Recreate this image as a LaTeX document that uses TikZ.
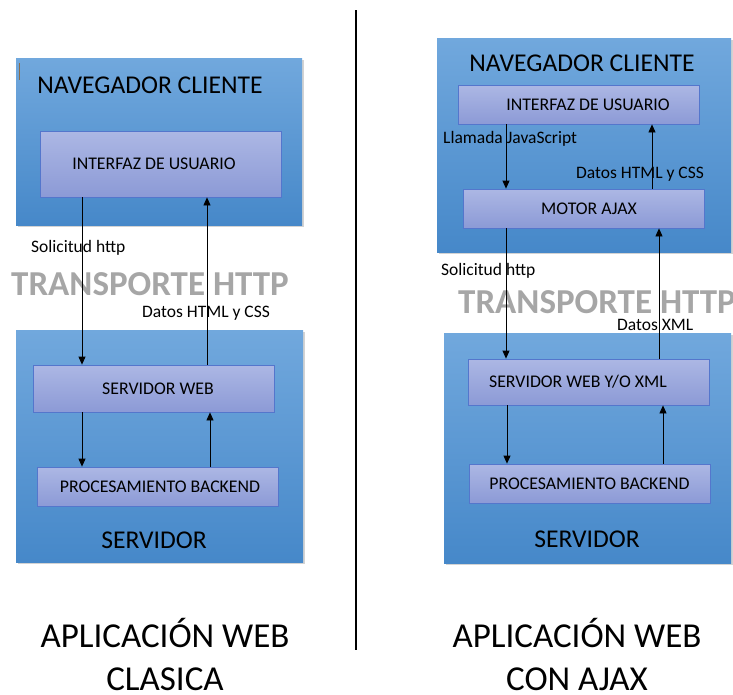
\documentclass[tikz,border=0pt]{standalone}
\usepackage{fontspec}
\setmainfont{Carlito}
\usetikzlibrary{shadows,arrows.meta}
\definecolor{outtop}{RGB}{113,168,221}
\definecolor{outbot}{RGB}{70,136,201}
\definecolor{intop}{RGB}{172,183,228}
\definecolor{inbot}{RGB}{140,154,214}
\definecolor{inborder}{RGB}{84,118,204}
\definecolor{transgray}{RGB}{166,166,166}
\definecolor{tickbrown}{RGB}{140,110,75}
\newcommand\fsz[1]{\fontsize{#1}{#1}\selectfont}
\begin{document}
\begin{tikzpicture}[x=1pt,y=-1pt,
  outerbox/.style={draw=none, top color=outtop, bottom color=outbot, inner sep=0pt,
    drop shadow={shadow xshift=1.5pt, shadow yshift=-2pt, opacity=0.35}},
  innerbox/.style={draw=inborder, line width=0.8pt, top color=intop, bottom color=inbot,
    inner sep=0pt, minimum width=241pt, font=\fsz{17.8}},
  title/.style={font=\fsz{25.6}, inner sep=0pt},
  lbl/.style={font=\fsz{17.5}, inner sep=0pt, anchor=west},
  transp/.style={font=\fsz{35}\bfseries, text=transgray, inner sep=0pt, anchor=base},
  caption/.style={font=\fsz{35}, inner sep=0pt, anchor=base},
  arr/.style={line width=0.8pt, -{Triangle[length=8pt,width=7pt]}}]
\useasboundingbox (0,0) rectangle (733,694);

% ---------- left: classic web application ----------
\node[outerbox, minimum width=286pt, minimum height=167pt] (lnav) at (159,141.5) {};
\draw[tickbrown, line width=1pt] (19,63) -- (19,80);
\node[title] (lnavt) at (150,85) {NAVEGADOR CLIENTE};
\node[innerbox, minimum height=66pt] (lui) at (160.5,164) {INTERFAZ DE USUARIO\hspace*{13pt}};

\node[lbl] (lsol) at (31,248) {Solicitud http};
\node[transp] (ltr) at (150,295) {TRANSPORTE HTTP};
\node[lbl] (ldat) at (142,313) {Datos HTML y CSS};

\node[outerbox, minimum width=287pt, minimum height=232pt] (lsrv) at (159.5,446) {};
\node[innerbox, minimum height=47pt] (lsw) at (153.5,388.5) {\hspace*{9pt}SERVIDOR WEB};
\node[innerbox, minimum height=39pt] (lpb) at (157.5,486.5) {\hspace*{5pt}PROCESAMIENTO BACKEND};
\node[title] (lsrvt) at (154,540) {SERVIDOR};

\coordinate (xa) at (82,0);
\coordinate (xb) at (207,0);
\coordinate (xc) at (210,0);
\draw[arr] (lui.south -| xa) -- (lsw.north -| xa);
\draw[arr] (lsw.north -| xb) -- (lui.south -| xb);
\draw[arr] (lsw.south -| xa) -- (lpb.north -| xa);
\draw[arr] (lpb.north -| xc) -- (lsw.south -| xc);

\node[caption] (lcap1) at (165,647) {APLICACIÓN WEB};
\node[caption] (lcap2) at (165,690) {CLASICA};

% ---------- divider ----------
\coordinate (dtop) at (356,10);
\coordinate (dbot) at (356,650);
\draw[line width=1.2pt] (dtop) -- (dbot);

% ---------- right: web application with AJAX ----------
\node[outerbox, minimum width=294pt, minimum height=214pt] (rnav) at (584,145) {};
\node[title] (rnavt) at (582,63) {NAVEGADOR CLIENTE};
\node[innerbox, minimum height=39pt] (rui) at (578.5,104.5) {\hspace*{19pt}INTERFAZ DE USUARIO};
\node[lbl] (rllam) at (443,139) {Llamada JavaScript};
\node[lbl] (rdat1) at (576,174) {Datos HTML y CSS};
\node[innerbox, minimum height=39pt] (rma) at (583.5,208.5) {\hspace*{11pt}MOTOR AJAX};

\node[lbl] (rsol) at (441,271) {Solicitud http};
\node[transp, anchor=base west] (rtr) at (458,313) {TRANSPORTE HTTP};
\node[lbl] (rdat2) at (617,325) {Datos XML};

\node[outerbox, minimum width=287pt, minimum height=230pt] (rsrv) at (587.5,448) {};
\node[innerbox, minimum height=46pt] (rsw) at (588.5,382) {SERVIDOR WEB Y/O XML\hspace*{21pt}};
\node[innerbox, minimum height=39pt] (rpb) at (589.5,483.5) {PROCESAMIENTO BACKEND};
\node[title] (rsrvt) at (587,539) {SERVIDOR};

\coordinate (xd) at (506,0);
\coordinate (xe) at (652,0);
\coordinate (xf) at (659,0);
\coordinate (xg) at (507,0);
\coordinate (xh) at (663,0);
\draw[arr] (rui.south -| xd) -- (rma.north -| xd);
\draw[arr] (rma.north -| xe) -- (rui.south -| xe);
\draw[arr] (rma.south -| xd) -- (rsw.north -| xd);
\draw[arr] (rsw.north -| xf) -- (rma.south -| xf);
\draw[arr] (rsw.south -| xg) -- (rpb.north -| xg);
\draw[arr] (rpb.north -| xh) -- (rsw.south -| xh);

\node[caption] (rcap1) at (577,647) {APLICACIÓN WEB};
\node[caption] (rcap2) at (577,690) {CON AJAX};
\end{tikzpicture}
\end{document}
